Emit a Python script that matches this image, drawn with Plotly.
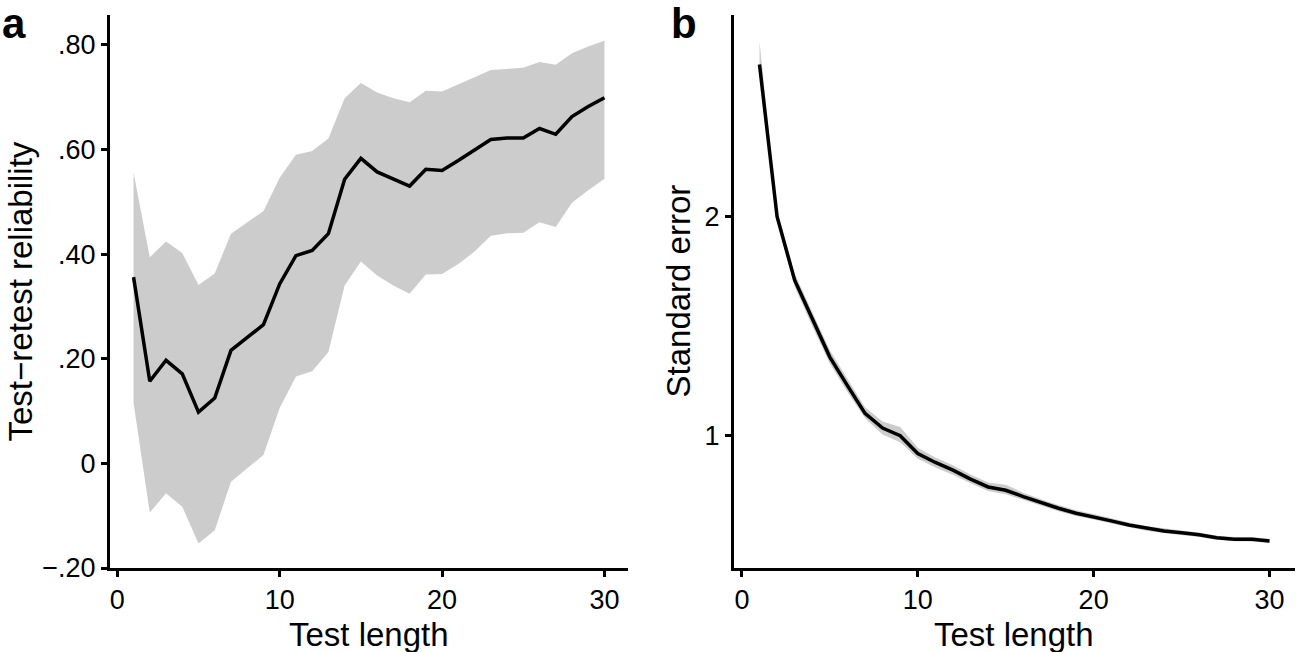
import plotly.graph_objs as go
from plotly.subplots import make_subplots

# test length 1..30 items
test_length = list(range(1, 31))

# panel a: test-retest reliability with interval
reliability = [0.356, 0.157, 0.197, 0.171, 0.098, 0.125, 0.216, 0.240, 0.265, 0.343,
               0.397, 0.407, 0.439, 0.543, 0.583, 0.557, 0.543, 0.530, 0.562, 0.560,
               0.579, 0.599, 0.619, 0.622, 0.622, 0.640, 0.629, 0.663, 0.682, 0.699]
rel_upper = [0.556, 0.394, 0.424, 0.402, 0.341, 0.363, 0.439, 0.461, 0.482, 0.546,
             0.590, 0.597, 0.621, 0.698, 0.727, 0.709, 0.698, 0.690, 0.712, 0.711,
             0.724, 0.738, 0.752, 0.754, 0.756, 0.767, 0.762, 0.784, 0.797, 0.808]
rel_lower = [0.116, -0.094, -0.057, -0.083, -0.153, -0.128, -0.035, -0.009, 0.016, 0.106,
             0.166, 0.176, 0.213, 0.340, 0.386, 0.359, 0.340, 0.324, 0.361, 0.362,
             0.381, 0.405, 0.435, 0.440, 0.441, 0.461, 0.452, 0.498, 0.522, 0.544]

# panel b: standard error with interval
std_err = [2.695, 2.0, 1.71, 1.533, 1.359, 1.229, 1.102, 1.035, 1.0, 0.919,
           0.878, 0.843, 0.802, 0.766, 0.751, 0.722, 0.694, 0.669, 0.646, 0.630,
           0.611, 0.592, 0.577, 0.565, 0.557, 0.548, 0.534, 0.527, 0.527, 0.519]
se_upper = [2.80, 2.03, 1.74, 1.565, 1.39, 1.26, 1.13, 1.065, 1.04, 0.945,
            0.90, 0.865, 0.823, 0.786, 0.776, 0.740, 0.710, 0.684, 0.660, 0.643,
            0.623, 0.604, 0.588, 0.576, 0.567, 0.558, 0.543, 0.537, 0.537, 0.530]
se_lower = [2.68, 1.98, 1.68, 1.50, 1.33, 1.20, 1.08, 1.005, 0.97, 0.895,
            0.855, 0.822, 0.783, 0.748, 0.733, 0.706, 0.679, 0.655, 0.633, 0.618,
            0.599, 0.581, 0.566, 0.555, 0.547, 0.538, 0.525, 0.518, 0.517, 0.510]

rel_ticks = [-0.2, 0, 0.2, 0.4, 0.6, 0.8]
rel_ticktext = ['\u2212.20', '0', '.20', '.40', '.60', '.80']
se_ticks = [1, 2]
x_ticks = [0, 10, 20, 30]

FONT = 'Liberation Sans, Arial, sans-serif'
BAND = '#cccccc'
W, H = 1297, 652

fig = make_subplots(rows=1, cols=2)

# ribbons + mean lines
for col, lo, hi, mid in [(1, rel_lower, rel_upper, reliability),
                         (2, se_lower, se_upper, std_err)]:
    fig.add_trace(go.Scatter(x=test_length, y=lo, mode='lines',
                             line=dict(width=0, color=BAND), showlegend=False,
                             hoverinfo='skip'), row=1, col=col)
    fig.add_trace(go.Scatter(x=test_length, y=hi, mode='lines', fill='tonexty',
                             fillcolor=BAND, line=dict(width=0, color=BAND),
                             showlegend=False, hoverinfo='skip'), row=1, col=col)
    fig.add_trace(go.Scatter(x=test_length, y=mid, mode='lines',
                             line=dict(color='black', width=3.5), showlegend=False),
                  row=1, col=col)

axis_style = dict(showline=True, linecolor='black', linewidth=3, ticks='outside',
                  ticklen=6, tickwidth=3, tickcolor='black', showgrid=False,
                  zeroline=False, automargin=False,
                  tickfont=dict(family=FONT, size=27, color='black'))

fig.update_xaxes(**axis_style, range=[-0.45, 31.45], tickvals=x_ticks)
fig.update_yaxes(**axis_style)

fig.update_layout(
    width=W, height=H,
    margin=dict(l=0, r=0, t=0, b=0),
    plot_bgcolor='white', paper_bgcolor='white',
    font=dict(family=FONT, color='black'),
    xaxis=dict(domain=[110 / W, 628 / W]),
    xaxis2=dict(domain=[734 / W, 1295 / W]),
    yaxis=dict(domain=[1 - 568 / H, 1 - 15 / H], range=[-0.2, 0.857],
               tickvals=rel_ticks, ticktext=rel_ticktext),
    yaxis2=dict(domain=[1 - 568 / H, 1 - 15 / H], range=[0.396, 2.921],
                tickvals=se_ticks),
)

title_font = dict(family=FONT, size=33, color='black')
ymid = 1 - 291.5 / H
# axis titles as centred annotations
fig.add_annotation(text='Test length', x=369 / W, y=1 - 634 / H)
fig.add_annotation(text='Test length', x=1014 / W, y=1 - 634 / H)
fig.add_annotation(text='Test\u2212retest reliability', x=20 / W, y=ymid, textangle=-90)
fig.add_annotation(text='Standard error', x=678 / W, y=ymid, textangle=-90)
fig.update_annotations(xref='paper', yref='paper', xanchor='center', yanchor='middle',
                       showarrow=False, font=title_font)

label_font = dict(family=FONT, size=42, color='black')
fig.add_annotation(text='<b>a</b>', x=14 / W, y=1 - 23 / H, xref='paper', yref='paper',
                   xanchor='center', yanchor='middle', showarrow=False, font=label_font)
fig.add_annotation(text='<b>b</b>', x=684 / W, y=1 - 23 / H, xref='paper', yref='paper',
                   xanchor='center', yanchor='middle', showarrow=False, font=label_font)

fig.write_html('out.html', config={'displayModeBar': False},
               post_script="document.body.style.margin='0';")
